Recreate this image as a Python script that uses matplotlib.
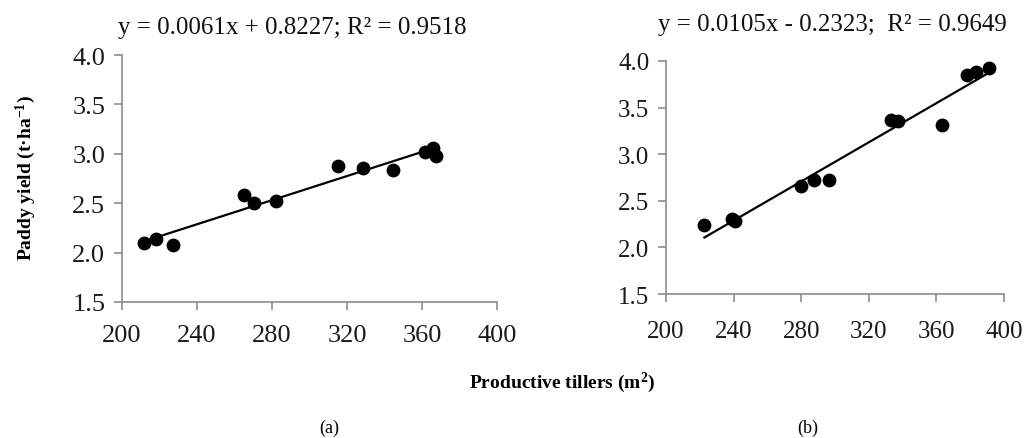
import matplotlib
matplotlib.use("Agg")
import matplotlib.pyplot as plt
import numpy as np

plt.rcParams['font.family'] = ['Liberation Serif', 'DejaVu Serif']
plt.rcParams['mathtext.fontset'] = 'custom'
plt.rcParams['mathtext.rm'] = 'Liberation Serif'
plt.rcParams['mathtext.bf'] = 'Liberation Serif:bold'
plt.rcParams['mathtext.default'] = 'bf'

# Panel (a)
tillers_a = [211.9, 218.1, 227.0, 265.0, 270.4, 282.0, 315.4, 328.4, 344.4, 361.6, 366.0, 367.5]
yield_a = [2.10, 2.14, 2.08, 2.58, 2.50, 2.52, 2.88, 2.86, 2.84, 3.02, 3.06, 2.98]
slope_a, icpt_a = 0.0061, 0.8227
eq_a = "y = 0.0061x + 0.8227; R² = 0.9518"

# Panel (b)
tillers_b = [222.7, 238.9, 240.8, 279.9, 287.8, 296.6, 333.1, 337.5, 363.1, 377.9, 383.2, 391.2]
yield_b = [2.245, 2.31, 2.28, 2.66, 2.72, 2.72, 3.37, 3.36, 3.31, 3.85, 3.88, 3.93]
slope_b, icpt_b = 0.0105, -0.2323
eq_b = "y = 0.0105x - 0.2323;  R² = 0.9649"

xticks = [200, 240, 280, 320, 360, 400]
yticks = [1.5, 2.0, 2.5, 3.0, 3.5, 4.0]

fig = plt.figure(figsize=(10.24, 4.39), dpi=100)
ax1 = fig.add_axes([0.1191, 0.3098, 0.3662, 0.5626])
ax2 = fig.add_axes([0.6504, 0.328, 0.3301, 0.5308])

def style(ax, fs, xpad):
    ax.set_xlim(200, 400)
    ax.set_ylim(1.5, 4.0)
    ax.set_xticks(xticks)
    ax.set_yticks(yticks)
    ax.set_yticklabels([f"{v:.1f}" for v in yticks])
    for s in ['top', 'right']:
        ax.spines[s].set_visible(False)
    for s in ['left', 'bottom']:
        ax.spines[s].set_color('#8c8c8c')
        ax.spines[s].set_linewidth(1.2)
    ax.tick_params(axis='both', direction='out', length=6, width=1.2,
                   color='#8c8c8c', labelsize=fs, labelcolor='#1a1a1a')
    ax.tick_params(axis='x', pad=xpad)
    ax.tick_params(axis='y', pad=6)

for ax, xs, ys, m, b, fs, xpad in [
        (ax1, tillers_a, yield_a, slope_a, icpt_a, 19, 10),
        (ax2, tillers_b, yield_b, slope_b, icpt_b, 18, 13)]:
    style(ax, fs, xpad)
    ax.scatter(xs, ys, s=80, color='black', zorder=3, clip_on=False)
    xl = np.array([min(xs), max(xs)])
    ax.plot(xl, m * xl + b, color='black', lw=1.6, zorder=2)

fig.text(0.285, 0.936, eq_a, ha='center', va='center', fontsize=18, color='#111111')
fig.text(0.813, 0.943, eq_b, ha='center', va='center', fontsize=18, color='#111111')

fig.text(0.025, 0.595, "Paddy yield (t·ha$^{-1}$)", rotation=90, ha='center', va='center',
         fontsize=14, fontweight='bold')
fig.text(0.549, 0.128, "Productive tillers (m$^{2}$)", ha='center', va='center',
         fontsize=14, fontweight='bold')
fig.text(0.322, 0.025, "(a)", ha='center', va='center', fontsize=13)
fig.text(0.789, 0.025, "(b)", ha='center', va='center', fontsize=13)

fig.savefig("out.png", dpi=100)
